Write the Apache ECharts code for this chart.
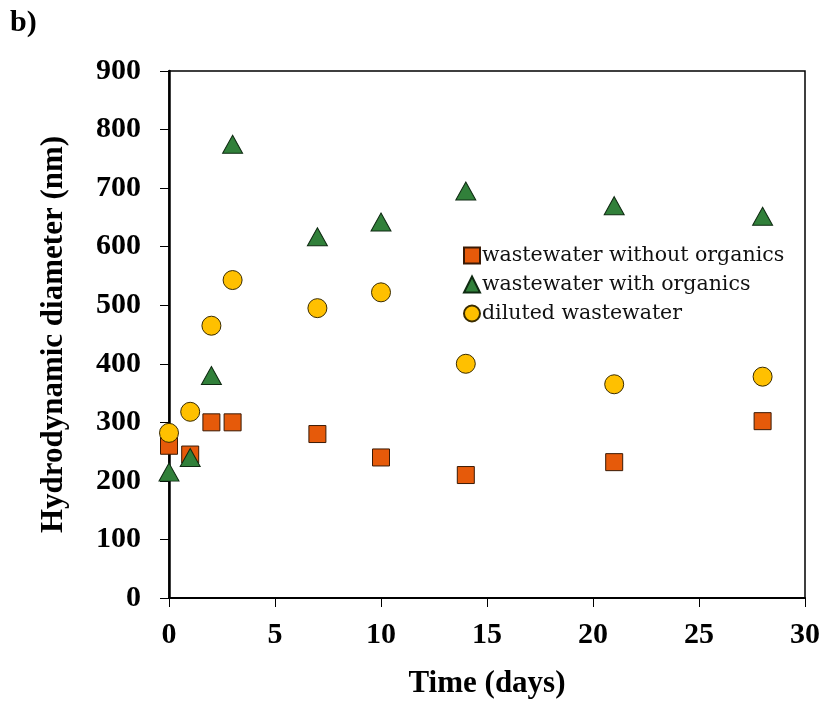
<!DOCTYPE html>
<html><head><meta charset="utf-8">
<script src="https://cdn.jsdelivr.net/npm/echarts@6/dist/echarts.min.js"></script>
<style>html,body{margin:0;padding:0;background:#fff}#c{width:824px;height:705px}</style>
</head><body><div id="c"></div>
<script>
const days = [0, 1, 2, 3, 7, 10, 14, 21, 28];
const withoutOrganics = [260, 245, 300, 300, 280, 240, 210, 232, 302];
const withOrganics = [215, 240, 380, 775, 617, 642, 695, 670, 652];
const diluted = [282, 318, 465, 543, 495, 522, 400, 365, 378];
const seriesNames = ['wastewater without organics', 'wastewater with organics', 'diluted wastewater'];
const xTicks = [0, 5, 10, 15, 20, 25, 30];
const yTicks = [0, 100, 200, 300, 400, 500, 600, 700, 800, 900];

const pair = (xs, ys) => xs.map((x, i) => [x, ys[i]]);
const font = 'Liberation Serif';
const chart = echarts.init(document.getElementById('c'), null, {renderer: 'canvas'});
chart.setOption({
  animation: false,
  backgroundColor: '#fff',
  grid: {left: 169, right: 19, top: 71, bottom: 107, show: true, borderColor: '#000', borderWidth: 1.5},
  title: {text: 'b)', left: 5, top: 3, textStyle: {fontFamily: font, fontWeight: 'bold', fontSize: 30, color: '#000'}},
  legend: {
    orient: 'vertical', left: 458, top: 240, itemGap: 8, itemWidth: 16, itemHeight: 16,
    textStyle: {fontFamily: 'DejaVu Serif', fontSize: 20.5, color: '#111', padding: [0, 0, 0, -3]},
    data: [
      {name: seriesNames[0], icon: 'rect'},
      {name: seriesNames[1], icon: 'triangle'},
      {name: seriesNames[2], icon: 'circle'}
    ]
  },
  xAxis: {
    type: 'value', min: 0, max: 30, interval: 5,
    name: 'Time (days)', nameLocation: 'middle', nameGap: 70,
    nameTextStyle: {fontFamily: font, fontWeight: 'bold', fontSize: 31, color: '#000'},
    axisLine: {lineStyle: {color: '#000', width: 2}},
    axisTick: {show: true, inside: false, length: 9, lineStyle: {color: '#000', width: 1}},
    axisLabel: {fontFamily: font, fontWeight: 'bold', fontSize: 30, color: '#000', margin: 22},
    splitLine: {show: false}
  },
  yAxis: {
    type: 'value', min: 0, max: 900, interval: 100,
    name: 'Hydrodynamic diameter (nm)', nameLocation: 'middle', nameGap: 100,
    nameTextStyle: {fontFamily: font, fontWeight: 'bold', fontSize: 31, color: '#000'},
    axisLine: {show: true, lineStyle: {color: '#000', width: 2.5}},
    axisTick: {show: true, inside: false, length: 9, lineStyle: {color: '#000', width: 1}},
    axisLabel: {fontFamily: font, fontWeight: 'bold', fontSize: 30, color: '#000', margin: 28},
    splitLine: {show: false}
  },
  series: [
    {name: seriesNames[0], type: 'scatter', symbol: 'rect', symbolSize: 17, z: 2,
     itemStyle: {color: '#E65A0A', borderColor: '#3a1a05', borderWidth: 1, opacity: 1},
     data: pair(days, withoutOrganics)},
    {name: seriesNames[1], type: 'scatter', symbol: 'triangle', symbolSize: [20, 18], z: 3,
     itemStyle: {color: '#31803A', borderColor: '#0f2a12', borderWidth: 1, opacity: 1},
     data: pair(days, withOrganics)},
    {name: seriesNames[2], type: 'scatter', symbol: 'circle', symbolSize: 19, z: 4,
     itemStyle: {color: '#FFC000', borderColor: '#3a2c00', borderWidth: 1, opacity: 1},
     data: pair(days, diluted)}
  ]
});
</script></body></html>
